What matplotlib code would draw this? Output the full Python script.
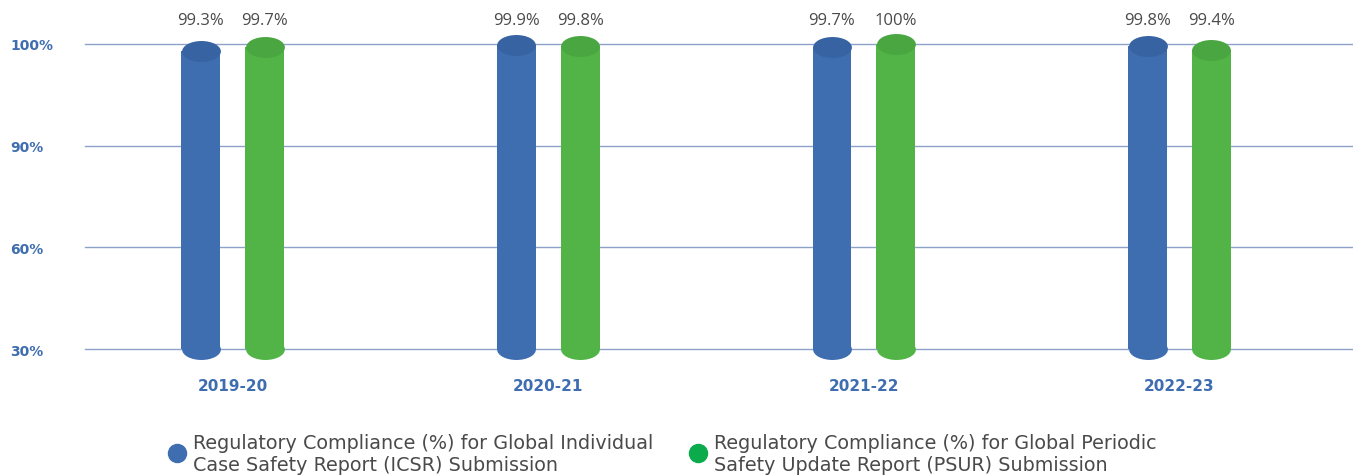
import matplotlib.pyplot as plt
import numpy as np
from matplotlib.lines import Line2D
from matplotlib.path import Path
from matplotlib.transforms import Affine2D

plt.rcParams["font.family"] = ["DejaVu Sans"]

YEARS = ["2019-20", "2020-21", "2021-22", "2022-23"]
ICSR = [99.3, 99.9, 99.7, 99.8]
PSUR = [99.7, 99.8, 100.0, 99.4]
Y_TICKS = [30, 60, 90, 100]
Y_TICK_LABELS = ["30%", "60%", "90%", "100%"]
LEGEND_LABELS = [
    "Regulatory Compliance (%) for Global Individual\nCase Safety Report (ICSR) Submission",
    "Regulatory Compliance (%) for Global Periodic\nSafety Update Report (PSUR) Submission",
]

BLUE = "#3e6db0"
BLUE_CAP = "#3763a2"
GREEN = "#52b447"
GREEN_CAP = "#4aa640"
LEGEND_GREEN = "#0bab4b"
TEXT_GRAY = "#4a4a4a"
GRID = "#8ea2c9"

BAR_WIDTH = 0.123
OFFSET = 0.101
XLIM = (-0.468, 3.55)


def forward(v):
    return np.interp(v, Y_TICKS, np.arange(len(Y_TICKS)))


def inverse(p):
    return np.interp(p, np.arange(len(Y_TICKS)), Y_TICKS)


fig = plt.figure(figsize=(13.53, 4.77), dpi=100)
ax = fig.add_axes([85 / 1353, 127 / 477, 1268 / 1353, 305 / 477])
ax.set_yscale("function", functions=(forward, inverse))
ax.set_xlim(*XLIM)
ax.set_ylim(30, 100)

# ellipse marker for the cylinder caps
ellipse = Path.unit_circle().transformed(Affine2D().scale(1.0, 0.54))
ax_w_pts = 1268 / 100 * 72
cap_size = (BAR_WIDTH * ax_w_pts / (XLIM[1] - XLIM[0])) ** 2

x = np.arange(len(YEARS))
for vals, dx, body, cap in [(ICSR, -OFFSET, BLUE, BLUE_CAP), (PSUR, OFFSET, GREEN, GREEN_CAP)]:
    vals = np.array(vals)
    xs = x + dx
    ax.bar(xs, vals - 30, bottom=30, width=BAR_WIDTH, color=body, zorder=3)
    ax.scatter(xs, [30] * len(xs), marker=ellipse, s=cap_size, color=body,
               linewidths=0, zorder=2.9, clip_on=False)
    ax.scatter(xs, vals, marker=ellipse, s=cap_size, color=cap,
               linewidths=0, zorder=4, clip_on=False)
    for xi, v in zip(xs, vals):
        ax.text(xi, 1.078, f"{v:g}%", transform=ax.get_xaxis_transform(),
                ha="center", va="center", fontsize=12, color=TEXT_GRAY,
                family="Open Sans")

for t in Y_TICKS:
    ax.axhline(t, color=GRID, linewidth=1, zorder=1, clip_on=False)

ax.set_yticks(Y_TICKS)
ax.set_yticklabels(Y_TICK_LABELS)
ax.tick_params(axis="y", length=0, pad=54, labelsize=10, labelcolor=BLUE)
for lab in ax.get_yticklabels():
    lab.set_horizontalalignment("left")
    lab.set_fontweight("bold")

ax.set_xticks(x)
ax.set_xticklabels(YEARS)
ax.tick_params(axis="x", length=0, pad=21, labelsize=11, labelcolor=BLUE)
for lab in ax.get_xticklabels():
    lab.set_fontweight("bold")

for side in ax.spines.values():
    side.set_visible(False)

# legend, placed by hand
for cx, color, text in [(177, BLUE, LEGEND_LABELS[0]), (698, LEGEND_GREEN, LEGEND_LABELS[1])]:
    fig.add_artist(Line2D([cx / 1353], [(477 - 454) / 477], transform=fig.transFigure,
                          marker="o", markersize=13, color=color, linestyle=""))
    fig.text((cx + 16) / 1353, (477 - 455) / 477, text, ha="left", va="center",
             fontsize=13.8, color=TEXT_GRAY, linespacing=1.2)

fig.savefig("out.png", dpi=100)
